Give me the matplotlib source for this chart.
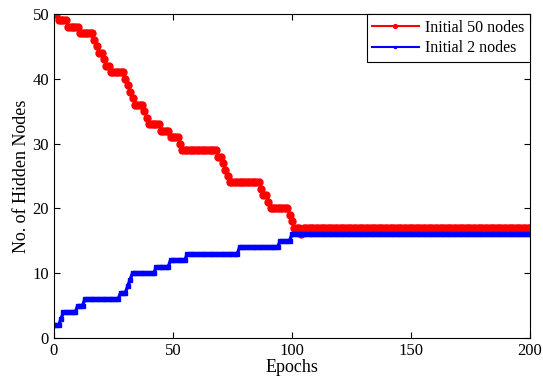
import matplotlib.pyplot as plt
import numpy as np

# (value, first epoch, last epoch) for each flat step
RED_STEPS = [
    (50, 0, 1), (49, 2, 5), (48, 6, 10), (47, 11, 16), (46, 17, 17),
    (45, 18, 18), (44, 19, 20), (43, 21, 21), (42, 22, 23), (41, 24, 29),
    (40, 30, 30), (39, 31, 31), (38, 32, 32), (37, 33, 33), (36, 34, 37),
    (35, 38, 38), (34, 39, 39), (33, 40, 44), (32, 45, 48), (31, 49, 52),
    (30, 53, 53), (29, 54, 68), (28, 69, 70), (27, 71, 71), (26, 72, 72),
    (25, 73, 73), (24, 74, 86), (23, 87, 87), (22, 88, 89), (21, 90, 90),
    (20, 91, 98), (19, 99, 99), (18, 100, 100), (17, 101, 103),
    (16, 104, 104), (17, 105, 200),
]
BLUE_STEPS = [
    (2, 0, 2), (3, 3, 3), (4, 4, 9), (5, 10, 12), (6, 13, 27), (7, 28, 30),
    (8, 31, 31), (9, 32, 32), (10, 33, 42), (11, 43, 48), (12, 49, 55),
    (13, 56, 77), (14, 78, 94), (15, 95, 99), (16, 100, 200),
]


def expand(steps):
    x, y = [], []
    for val, a, b in steps:
        for e in range(a, b + 1):
            x.append(e)
            y.append(val)
    return np.array(x), np.array(y)


plt.rcParams["font.family"] = ["Liberation Serif", "DejaVu Serif"]
plt.rcParams["font.size"] = 12

fig = plt.figure(figsize=(5.43, 3.82), dpi=100)
ax = fig.add_axes([0.0994, 0.1152, 0.8766, 0.8482])

xr, yr = expand(RED_STEPS)
xb, yb = expand(BLUE_STEPS)
ax.plot(xr, yr, color="red", lw=1.5, marker="o", ms=5, mec="red",
        label="Initial 50 nodes")
ax.plot(xb, yb, color="blue", lw=2.4, marker="s", ms=2.4, mec="blue",
        label="Initial 2 nodes")

ax.set_xlim(0, 200)
ax.set_ylim(0, 50)
ax.set_xticks(np.arange(0, 201, 50))
ax.set_yticks(np.arange(0, 51, 10))
ax.tick_params(direction="in", top=True, right=True, length=4, width=0.8,
               labelsize=12)
for s in ax.spines.values():
    s.set_linewidth(0.8)
ax.set_xlabel("Epochs", fontsize=13, labelpad=0)
ax.set_ylabel("No. of Hidden Nodes", fontsize=13, labelpad=2)

leg = ax.legend(loc="upper right", fancybox=False, framealpha=1,
                edgecolor="black", borderaxespad=0, handlelength=2.9,
                borderpad=0.35, labelspacing=0.3, handletextpad=0.4,
                markerscale=0.55, fontsize=11.5)
leg.get_frame().set_linewidth(0.8)
for h in leg.get_lines():
    h.set_linewidth(1.5)

fig.savefig("out.png", dpi=100)
